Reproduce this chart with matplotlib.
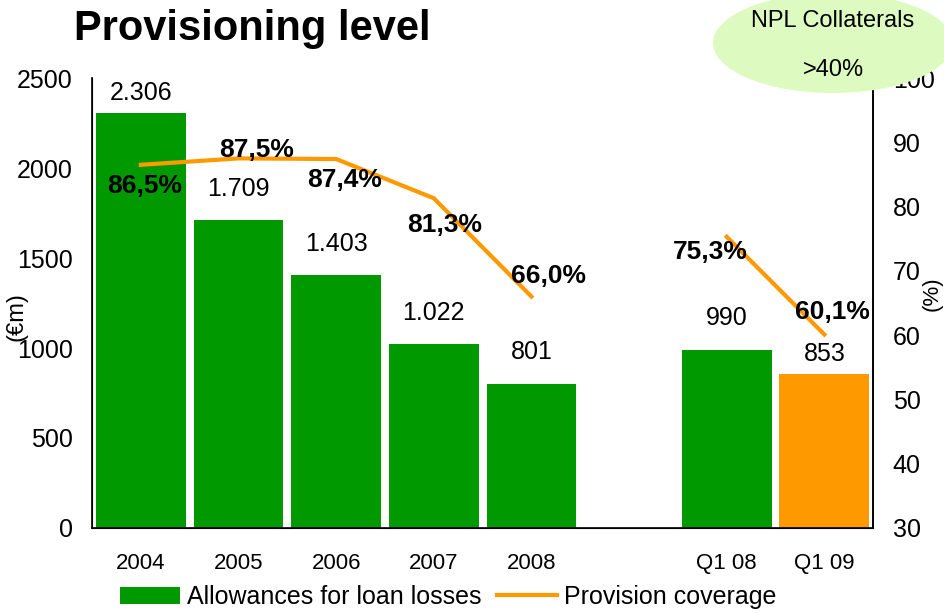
import numpy as np
import matplotlib
matplotlib.use("Agg")
import matplotlib.pyplot as plt
from matplotlib.patches import Ellipse, Patch
from matplotlib.lines import Line2D

plt.rcParams['font.family'] = ['Liberation Sans', 'DejaVu Sans']

# data
categories = ['2004', '2005', '2006', '2007', '2008', '', 'Q1 08', 'Q1 09']
allowances = [2306, 1709, 1403, 1022, 801, np.nan, 990, 853]
coverage = [86.5, 87.5, 87.4, 81.3, 66.0, np.nan, 75.3, 60.1]
allow_labels = ['2.306', '1.709', '1.403', '1.022', '801', '', '990', '853']
cov_labels = ['86,5%', '87,5%', '87,4%', '81,3%', '66,0%', '', '75,3%', '60,1%']

green = '#009900'
orange = '#FF9900'
bar_colors = [green, green, green, green, green, green, green, orange]
# label offsets (points)
val_offsets = [6, 14, 14, 14, 14, 0, 14, 6]
cov_offsets = [(3, -15), (13, 6), (6, -15), (8, -19), (12, 15), (0, 0), (-12, -11), (6, 16)]

fig = plt.figure(figsize=(9.44, 6.13), dpi=100)
ax = fig.add_axes([0.0975, 0.1387, 0.8275, 0.734])
x = np.arange(len(categories))

ax.bar(x, allowances, width=0.92, color=bar_colors, zorder=2)
ax.set_xlim(-0.5, len(categories) - 0.5)
ax.set_ylim(0, 2500)
ax.set_yticks([0, 500, 1000, 1500, 2000, 2500])
ax.tick_params(axis='y', length=0, pad=14, labelsize=18)
ax.set_xticks([i for i in x if categories[i]])
ax.set_xticklabels([c for c in categories if c])
ax.tick_params(axis='x', length=0, pad=18, labelsize=16)
ax.spines['top'].set_visible(False)
for s in ['left', 'bottom', 'right']:
    ax.spines[s].set_linewidth(1.2)
ax.set_ylabel('(€m)', fontsize=17)
ax.yaxis.set_label_coords(-0.082, 0.47)

for xi, v, lab, off in zip(x, allowances, allow_labels, val_offsets):
    if lab:
        ax.annotate(lab, (xi, v), xytext=(0, off), textcoords='offset points',
                    ha='center', va='bottom', fontsize=18)

ax2 = ax.twinx()
ax2.set_ylim(30, 100)
ax2.set_yticks(range(30, 101, 10))
ax2.tick_params(axis='y', length=0, pad=14, labelsize=18)
ax2.spines['top'].set_visible(False)
ax2.spines['right'].set_linewidth(1.2)
ax2.plot(x, coverage, color=orange, linewidth=3, zorder=3)
ax2.set_ylabel('(%)', fontsize=16, rotation=90)
ax2.yaxis.set_label_coords(1.062, 0.52)

for xi, v, lab, off in zip(x, coverage, cov_labels, cov_offsets):
    if lab:
        ax2.annotate(lab, (xi, v), xytext=off, textcoords='offset points',
                     ha='center', va='center', fontsize=19, fontweight='bold')

fig.text(0.078, 0.952, 'Provisioning level', fontsize=30, fontweight='bold',
         ha='left', va='center')

fig.add_artist(Ellipse((833 / 944, 1 - 43 / 613), 240 / 944, 100 / 613,
                       transform=fig.transFigure, facecolor='#DDFBC0', edgecolor='none'))
fig.text(833 / 944, 1 - 21 / 613, 'NPL Collaterals', fontsize=17, ha='center', va='center')
fig.text(833 / 944, 1 - 70 / 613, '>40%', fontsize=17, ha='center', va='center')

handles = [Patch(facecolor=green), Line2D([0], [0], color=orange, lw=3)]
fig.legend(handles, ['Allowances for loan losses', 'Provision coverage'],
           loc='center', bbox_to_anchor=(0.475, 0.026), ncol=2, frameon=False,
           fontsize=18, handlelength=2.4, handletextpad=0.3, columnspacing=0.6)

fig.savefig('out.png', dpi=100)
